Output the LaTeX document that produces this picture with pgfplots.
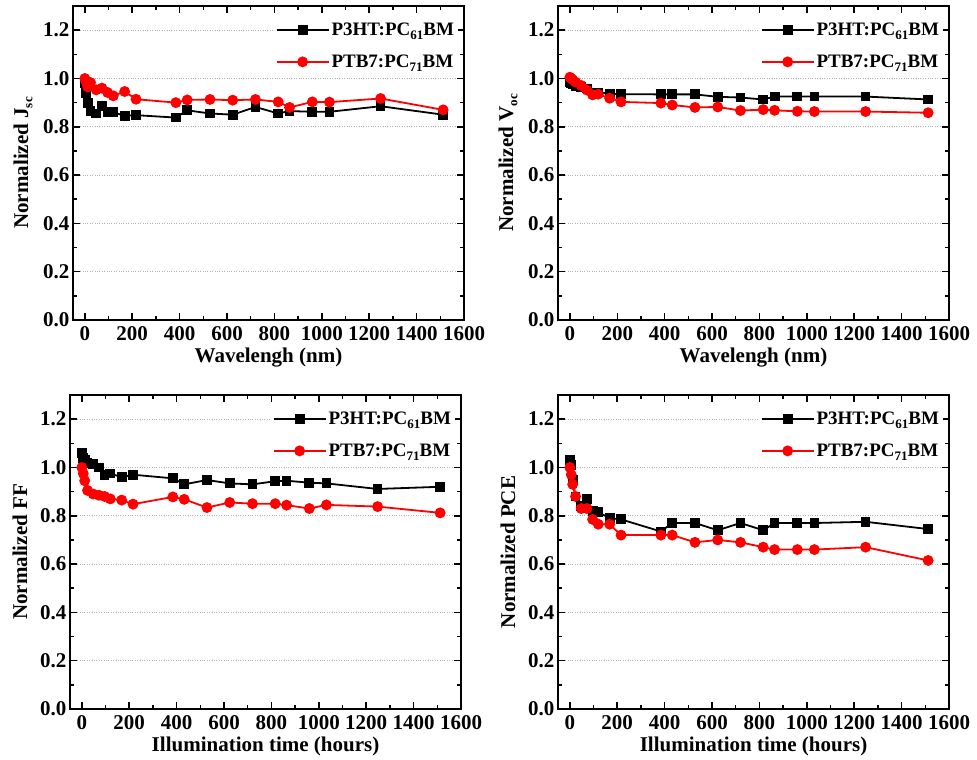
\documentclass[border=0pt]{standalone}
\usepackage{pgfplots}
\pgfplotsset{compat=1.18}
\usepackage{fontspec}
\setmainfont{Liberation Serif}
\newcommand{\sub}[1]{\raisebox{-0.45ex}{\fontsize{13}{13}\selectfont #1}}

\pgfplotstableread{
t    a     b
0    0.980 1.000
6    0.940 0.985
12   0.900 0.965
24   0.865 0.983
48   0.855 0.953
72   0.885 0.960
96   0.860 0.942
120  0.860 0.928
168  0.845 0.946
216  0.848 0.914
384  0.838 0.900
432  0.868 0.911
528  0.855 0.913
624  0.850 0.910
720  0.882 0.913
816  0.855 0.903
864  0.865 0.880
960  0.862 0.903
1032 0.862 0.902
1248 0.885 0.917
1512 0.850 0.870
}\jsc

\pgfplotstableread{
t    a     b
0    0.985 1.005
6    0.980 1.000
12   0.975 0.995
24   0.970 0.985
48   0.965 0.971
72   0.958 0.952
96   0.942 0.932
120  0.942 0.935
168  0.937 0.918
216  0.935 0.903
384  0.934 0.898
432  0.934 0.890
528  0.934 0.880
624  0.924 0.882
720  0.921 0.867
816  0.913 0.871
864  0.925 0.868
960  0.925 0.864
1032 0.925 0.863
1248 0.925 0.863
1512 0.913 0.858
}\voc

\pgfplotstableread{
t    a     b
0    1.060 1.000
6    1.040 0.975
12   1.030 0.945
24   1.020 0.905
48   1.015 0.890
72   1.000 0.885
96   0.970 0.880
120  0.975 0.870
168  0.960 0.865
216  0.970 0.848
384  0.955 0.878
432  0.930 0.868
528  0.948 0.834
624  0.934 0.855
720  0.930 0.850
816  0.943 0.850
864  0.945 0.844
960  0.937 0.830
1032 0.934 0.845
1248 0.911 0.838
1512 0.920 0.812
}\ff

\pgfplotstableread{
t    a     b
0    1.030 1.000
6    1.010 0.970
12   0.950 0.930
24   0.880 0.880
48   0.840 0.830
72   0.870 0.830
96   0.820 0.785
120  0.815 0.765
168  0.790 0.765
216  0.785 0.720
384  0.735 0.720
432  0.770 0.720
528  0.770 0.690
624  0.740 0.700
720  0.770 0.690
816  0.740 0.670
864  0.770 0.660
960  0.770 0.660
1032 0.770 0.660
1248 0.775 0.670
1512 0.745 0.615
}\pce

\pgfplotsset{
  myax/.style={
    scale only axis, width=391pt, height=314pt,
    xmin=-50, xmax=1600, ymin=0, ymax=1.3,
    xtick={0,200,400,600,800,1000,1200,1400,1600},
    ytick={0,0.2,0.4,0.6,0.8,1.0,1.2},
    minor x tick num=1, minor y tick num=1,
    tick align=inside, major tick length=7pt, minor tick length=4pt,
    axis line style={line width=2pt},
    every tick/.style={line width=1.5pt, black},
    ymajorgrids, grid style={dotted, gray!60, line width=0.8pt},
    /pgf/number format/assume math mode=true,
    yticklabel style={/pgf/number format/.cd, fixed, fixed zerofill, precision=1},
    xticklabel style={yshift=-3pt, /pgf/number format/.cd, fixed, set thousands separator={}},
    tick label style={font=\fontsize{21}{21}\selectfont\bfseries},
    label style={font=\fontsize{21}{21}\selectfont\bfseries},
    xlabel style={at={(axis description cs:0.5,-0.12)}, anchor=center},
    ylabel style={at={(axis description cs:-0.128,0.5)}, anchor=center},
    legend style={at={(0.985,0.96)}, anchor=north east, draw=none, fill=white,
      font=\fontsize{19}{21}\selectfont\bfseries, row sep=14pt, inner sep=2pt},
    legend cell align=left,
    legend image code/.code={\draw[mark repeat=2,mark phase=2] plot coordinates {(0pt,0pt) (26pt,0pt) (52pt,0pt)};},
  },
  blk/.style={black, line width=1.8pt, mark=square*, mark size=4pt, mark options={solid}},
  rd/.style={red, line width=1.8pt, mark=*, mark size=4.5pt, mark options={solid}},
}

\begin{document}
\begin{tikzpicture}
\useasboundingbox (0,0) rectangle (977pt,760pt);

\begin{axis}[myax, at={(73pt,440pt)}, anchor=south west,
  xlabel={Wavelengh (nm)}, ylabel={Normalized J\sub{sc}}]
\addplot[blk] table[x=t,y=a] {\jsc};
\addplot[rd] table[x=t,y=b] {\jsc};
\legend{P3HT:PC\sub{61}BM, PTB7:PC\sub{71}BM}
\end{axis}

\begin{axis}[myax, at={(558pt,440pt)}, anchor=south west,
  xlabel={Wavelengh (nm)}, ylabel={Normalized V\sub{oc}}]
\addplot[blk] table[x=t,y=a] {\voc};
\addplot[rd] table[x=t,y=b] {\voc};
\legend{P3HT:PC\sub{61}BM, PTB7:PC\sub{71}BM}
\end{axis}

\begin{axis}[myax, at={(70pt,51pt)}, anchor=south west,
  xlabel={Illumination time (hours)}, ylabel={Normalized FF}]
\addplot[blk] table[x=t,y=a] {\ff};
\addplot[rd] table[x=t,y=b] {\ff};
\legend{P3HT:PC\sub{61}BM, PTB7:PC\sub{71}BM}
\end{axis}

\begin{axis}[myax, at={(558pt,51pt)}, anchor=south west,
  xlabel={Illumination time (hours)}, ylabel={Normalized PCE}]
\addplot[blk] table[x=t,y=a] {\pce};
\addplot[rd] table[x=t,y=b] {\pce};
\legend{P3HT:PC\sub{61}BM, PTB7:PC\sub{71}BM}
\end{axis}
\end{tikzpicture}
\end{document}
